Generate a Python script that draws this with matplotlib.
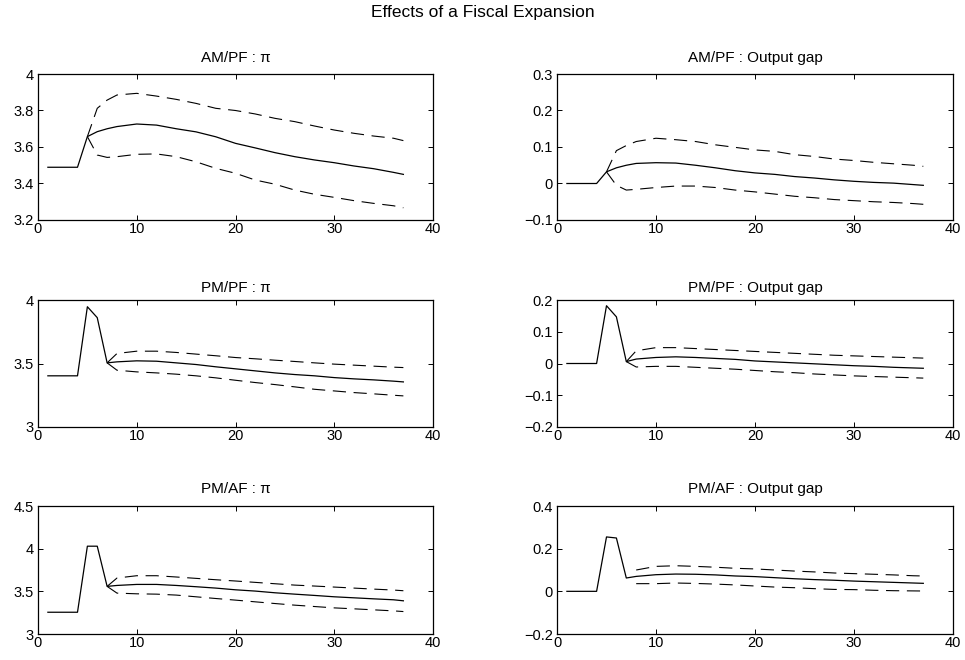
"""Effects of a fiscal expansion: impulse responses with error bands."""
import matplotlib
matplotlib.use("Agg")
import matplotlib.pyplot as plt

plt.rcParams["font.family"] = ["Liberation Sans", "DejaVu Sans"]
plt.rcParams["lines.scale_dashes"] = False

# --- Data ---
# time points used for the median response
T = [1, 4, 5, 6, 7, 8, 10, 12, 14, 16, 18, 20, 22, 24, 26, 28, 30, 32, 34, 36, 37]

titles = ["AM/PF : π", "AM/PF : Output gap",
          "PM/PF : π", "PM/PF : Output gap",
          "PM/AF : π", "PM/AF : Output gap"]

# median responses
amp_pi = [3.489, 3.489, 3.657, 3.684, 3.700, 3.712, 3.726, 3.720, 3.700, 3.683,
          3.656, 3.620, 3.595, 3.569, 3.547, 3.529, 3.514, 3.496, 3.481, 3.461, 3.450]
amp_gap = [0, 0, 0.032, 0.043, 0.050, 0.055, 0.057, 0.056, 0.050, 0.043, 0.035,
           0.029, 0.025, 0.019, 0.015, 0.010, 0.006, 0.003, 0.001, -0.003, -0.005]
pmpf_pi = [3.403, 3.403, 3.947, 3.861, 3.505, 3.513, 3.521, 3.518, 3.505, 3.492,
           3.474, 3.458, 3.442, 3.426, 3.413, 3.403, 3.389, 3.379, 3.371, 3.361, 3.355]
pmpf_gap = [0, 0, 0.182, 0.147, 0.006, 0.014, 0.019, 0.021, 0.019, 0.016, 0.013,
            0.008, 0.005, 0.002, -0.001, -0.004, -0.007, -0.009, -0.012, -0.014, -0.015]
pmaf_pi = [3.255, 3.255, 4.029, 4.029, 3.558, 3.569, 3.581, 3.581, 3.569, 3.554,
           3.538, 3.518, 3.503, 3.483, 3.467, 3.452, 3.436, 3.424, 3.412, 3.401, 3.389]
pmaf_gap = [0, 0, 0.255, 0.250, 0.0625, 0.070, 0.078, 0.081, 0.080, 0.077, 0.072,
            0.069, 0.064, 0.059, 0.055, 0.052, 0.048, 0.045, 0.042, 0.039, 0.0375]

# error bands (start index into T for each panel)
band_start = [2, 2, 4, 4, 4, 5]

amp_pi_hi = [3.657, 3.812, 3.857, 3.885, 3.894, 3.879, 3.861, 3.839, 3.812, 3.800,
             3.781, 3.757, 3.739, 3.715, 3.693, 3.675, 3.660, 3.648, 3.635]
amp_pi_lo = [3.657, 3.556, 3.543, 3.547, 3.560, 3.562, 3.547, 3.519, 3.483, 3.456,
             3.419, 3.396, 3.364, 3.341, 3.324, 3.306, 3.291, 3.278, 3.267]
amp_gap_hi = [0.032, 0.090, 0.104, 0.115, 0.124, 0.120, 0.115, 0.106, 0.099, 0.092,
              0.088, 0.079, 0.074, 0.067, 0.063, 0.058, 0.054, 0.050, 0.047]
amp_gap_lo = [0.032, -0.005, -0.018, -0.016, -0.011, -0.007, -0.007, -0.011, -0.018,
              -0.023, -0.029, -0.035, -0.039, -0.044, -0.047, -0.050, -0.052, -0.055, -0.057]
pmpf_pi_hi = [3.505, 3.579, 3.597, 3.597, 3.587, 3.574, 3.561, 3.547, 3.537, 3.526,
              3.516, 3.505, 3.495, 3.487, 3.479, 3.471, 3.468]
pmpf_pi_lo = [3.505, 3.447, 3.434, 3.426, 3.416, 3.403, 3.387, 3.368, 3.350, 3.334,
              3.316, 3.297, 3.284, 3.271, 3.261, 3.250, 3.245]
pmpf_gap_hi = [0.006, 0.040, 0.050, 0.050, 0.047, 0.044, 0.041, 0.038, 0.035, 0.032,
               0.029, 0.026, 0.024, 0.022, 0.020, 0.018, 0.017]
pmpf_gap_lo = [0.006, -0.011, -0.009, -0.009, -0.012, -0.015, -0.018, -0.022, -0.026,
               -0.029, -0.033, -0.036, -0.039, -0.041, -0.043, -0.045, -0.046]
pmaf_pi_hi = [3.558, 3.656, 3.683, 3.683, 3.668, 3.652, 3.636, 3.621, 3.605, 3.589,
              3.573, 3.562, 3.550, 3.538, 3.526, 3.515, 3.507]
pmaf_pi_lo = [3.558, 3.479, 3.471, 3.467, 3.456, 3.436, 3.416, 3.397, 3.377, 3.357,
              3.338, 3.322, 3.306, 3.295, 3.283, 3.271, 3.263]
pmaf_gap_hi = [0.100, 0.117, 0.120, 0.117, 0.113, 0.108, 0.105, 0.100, 0.095, 0.091,
               0.086, 0.083, 0.080, 0.077, 0.073, 0.072]
pmaf_gap_lo = [0.036, 0.036, 0.039, 0.037, 0.034, 0.030, 0.025, 0.020, 0.017, 0.0125,
               0.009, 0.008, 0.005, 0.003, 0.002, 0.0015]

medians = [amp_pi, amp_gap, pmpf_pi, pmpf_gap, pmaf_pi, pmaf_gap]
uppers = [amp_pi_hi, amp_gap_hi, pmpf_pi_hi, pmpf_gap_hi, pmaf_pi_hi, pmaf_gap_hi]
lowers = [amp_pi_lo, amp_gap_lo, pmpf_pi_lo, pmpf_gap_lo, pmaf_pi_lo, pmaf_gap_lo]

ylims = [(3.2, 4), (-0.1, 0.3), (3, 4), (-0.2, 0.2), (3, 4.5), (-0.2, 0.4)]
yticks = [[3.2, 3.4, 3.6, 3.8, 4], [-0.1, 0, 0.1, 0.2, 0.3],
          [3, 3.5, 4], [-0.2, -0.1, 0, 0.1, 0.2],
          [3, 3.5, 4, 4.5], [-0.2, 0, 0.2, 0.4]]
xticks = [0, 10, 20, 30, 40]

# --- Layout (MATLAB-style subplot grid, pixel positions) ---
W, H = 965, 660
cols = [(38, 395), (557, 396)]
rows = [(74, 146), (300, 127), (506, 128)]
title_pads = [8.5, 6.0, 9.5]

fig = plt.figure(figsize=(W / 100, H / 100), dpi=100)
fig.text(0.5, 1 - 13 / H, "Effects of a Fiscal Expansion", ha="center",
         va="center", fontsize=12.5)

for i in range(6):
    r, c = divmod(i, 2)
    x0, w = cols[c]
    y0, h = rows[r]
    ax = fig.add_axes([x0 / W, 1 - (y0 + h) / H, w / W, h / H])

    ax.plot(T, medians[i], color="black", linewidth=0.9)
    tb = T[band_start[i]:]
    ax.plot(tb, uppers[i], color="black", linewidth=0.8,
            linestyle="--", dashes=(9.5, 5.5))
    ax.plot(tb, lowers[i], color="black", linewidth=0.8,
            linestyle="--", dashes=(9.5, 5.5))

    ax.set_xlim(0, 40)
    ax.set_ylim(*ylims[i])
    ax.set_xticks(xticks)
    ax.set_yticks(yticks[i])
    ax.set_yticklabels([f"{v:g}".replace("-", "\u2212") for v in yticks[i]])
    ax.set_title(titles[i], fontsize=11, pad=title_pads[r])

    ax.tick_params(direction="in", top=True, right=True, length=3.5,
                   width=0.7, labelsize=10.5)
    ax.tick_params(axis="x", pad=1.5)
    ax.tick_params(axis="y", pad=3)
    for s in ax.spines.values():
        s.set_linewidth(0.9)

plt.savefig("out.png", dpi=100)
